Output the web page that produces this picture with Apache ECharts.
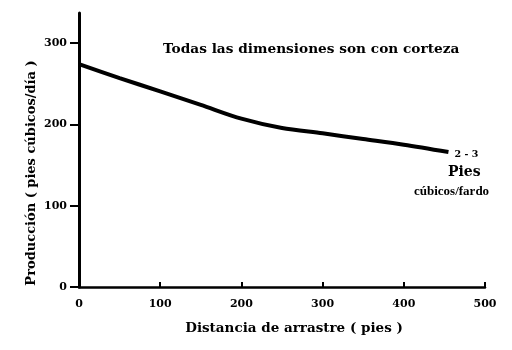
<!DOCTYPE html>
<html>
<head>
<meta charset="utf-8">
<script src="https://cdn.jsdelivr.net/npm/echarts@6/dist/echarts.min.js"></script>
<style>html,body{margin:0;padding:0;background:#fff}#c{width:512px;height:350px}</style>
</head>
<body>
<div id="c"></div>
<script>
const distances = [0, 50, 100, 150, 200, 250, 300, 350, 400, 455];
const production = [274, 257, 240.5, 224, 207, 195.5, 189, 182, 175, 166];
const yTicks = [0, 100, 200, 300];
const title = 'Todas las dimensiones son con corteza';
const xName = 'Distancia de arrastre ( pies )';
const yName = 'Producción ( pies cúbicos/día )';
const endText = '2 - 3';
const unitLines = ['Pies', 'cúbicos/fardo'];

const FONT = 'DejaVu Serif';
const chart = echarts.init(document.getElementById('c'), null, {renderer: 'canvas'});
chart.setOption({
  backgroundColor: '#fff',
  animation: false,
  grid: {left: 79, right: 27, top: 13, bottom: 63, containLabel: false},
  xAxis: {
    type: 'value', min: 0, max: 500, interval: 100,
    name: xName, nameLocation: 'middle', nameGap: 34,
    nameTextStyle: {fontFamily: FONT, fontWeight: 'bold', fontSize: 13.5, color: '#000', padding: [0, 0, 0, 24]},
    axisLine: {show: true, onZero: false, lineStyle: {color: '#000', width: 2.5}},
    axisTick: {show: true, inside: true, length: 5, lineStyle: {color: '#000', width: 2}},
    axisLabel: {fontFamily: FONT, fontWeight: 'bold', fontSize: 11, color: '#000', margin: 12},
    splitLine: {show: false}
  },
  yAxis: {
    type: 'value', min: 0, max: 337,
    axisLine: {show: true, lineStyle: {color: '#000', width: 3}},
    axisTick: {show: true, length: 9, customValues: yTicks, lineStyle: {color: '#000', width: 2}},
    axisLabel: {fontFamily: FONT, fontWeight: 'bold', fontSize: 11, color: '#000', margin: 12, customValues: yTicks},
    splitLine: {show: false}
  },
  series: [{
    type: 'line',
    data: distances.map((d, i) => [d, production[i]]),
    smooth: 0.3,
    symbol: 'none',
    lineStyle: {color: '#000', width: 4},
    endLabel: {show: true, formatter: endText, fontFamily: FONT, fontWeight: 'bold', fontSize: 9.5, color: '#000', distance: 6, offset: [0, 2]}
  }],
  graphic: [
    {type: 'text', left: 163, top: 42, style: {text: title, font: 'bold 13.7px "DejaVu Serif"', fill: '#000'}},
    {type: 'text', left: 448, top: 165, style: {text: unitLines[0], font: 'bold 14px "DejaVu Serif"', fill: '#000'}},
    {type: 'text', left: 414, top: 185, style: {text: unitLines[1], font: 'bold 13px "Liberation Serif"', fill: '#000'}},
    {type: 'text', x: 32, y: 173, rotation: Math.PI / 2,
     style: {text: yName, font: 'bold 13px "DejaVu Serif"', fill: '#000', align: 'center', verticalAlign: 'middle'}}
  ]
});
</script>
</body>
</html>
